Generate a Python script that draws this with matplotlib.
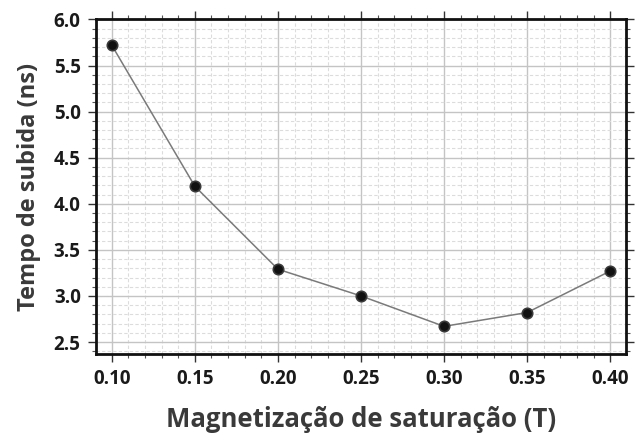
import matplotlib
matplotlib.use("Agg")
import matplotlib.pyplot as plt
from matplotlib.ticker import MultipleLocator

# Rise time vs saturation magnetization
magnetizacao = [0.10, 0.15, 0.20, 0.25, 0.30, 0.35, 0.40]
tempo_subida = [5.72, 4.19, 3.29, 3.00, 2.67, 2.82, 3.27]

x_ticks = [0.10, 0.15, 0.20, 0.25, 0.30, 0.35, 0.40]
y_ticks = [2.5, 3.0, 3.5, 4.0, 4.5, 5.0, 5.5, 6.0]

plt.rcParams['font.family'] = ['Open Sans', 'DejaVu Sans']

fig = plt.figure(figsize=(6.35, 4.37), dpi=100)
ax = fig.add_axes([0.1512, 0.1899, 0.8346, 0.7666])

ax.plot(magnetizacao, tempo_subida, color='#7a7a7a', lw=1.1, zorder=3)
ax.plot(magnetizacao, tempo_subida, ls='none', marker='o', ms=7.5,
        mfc='#111111', mec='#3a3a3a', mew=1.2, zorder=4)

ax.set_xlim(0.0905, 0.4095)
ax.set_ylim(2.37, 6.005)
ax.set_xticks(x_ticks)
ax.set_yticks(y_ticks)
ax.set_xticklabels([f"{v:.2f}" for v in x_ticks])
ax.set_yticklabels([f"{v:.1f}" for v in y_ticks])
ax.xaxis.set_minor_locator(MultipleLocator(0.01))
ax.yaxis.set_minor_locator(MultipleLocator(0.1))

ax.grid(which='major', color='#c4c4c4', lw=1.0, ls='-', zorder=0)
ax.grid(which='minor', color='#dcdcdc', lw=0.8, ls=(0, (3, 2)), zorder=0)
ax.set_axisbelow(True)

for s in ax.spines.values():
    s.set_linewidth(2.0)
    s.set_color('#111111')

ax.tick_params(which='major', direction='out', length=6, width=1.0,
               color='#333333', top=True, right=True, labeltop=False,
               labelright=False, labelsize=13.5, labelcolor='#1a1a1a', pad=5)
ax.tick_params(which='minor', direction='out', length=3, width=0.8,
               color='#555555', top=True, right=True)
for lab in ax.get_xticklabels() + ax.get_yticklabels():
    lab.set_fontweight('bold')

ax.set_xlabel('Magnetização de saturação (T)', fontsize=18.5,
              fontweight='bold', color='#3a3a3a', labelpad=12)
ax.set_ylabel('Tempo de subida (ns)', fontsize=17,
              fontweight='bold', color='#3a3a3a', labelpad=9)

fig.savefig('out.png', dpi=100)
